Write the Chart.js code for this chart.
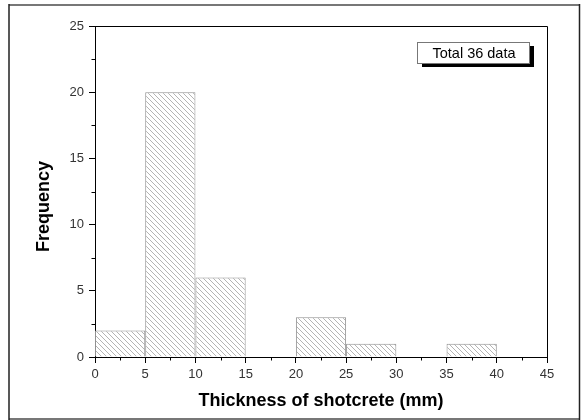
<!DOCTYPE html>
<html><head><meta charset="utf-8">
<script src="https://cdn.jsdelivr.net/npm/chart.js@4/dist/chart.umd.min.js"></script>
<style>html,body{margin:0;padding:0;background:#fff;}canvas{display:block;}</style>
</head><body>
<canvas id="c" width="584" height="420"></canvas>
<script>
// ---- data ----
const binStarts = [0, 5, 10, 15, 20, 25, 30, 35, 40];
const binWidth = 5;
const frequencies = [2, 20, 6, 0, 3, 1, 0, 1, 0];
const xTickValues = [0, 5, 10, 15, 20, 25, 30, 35, 40, 45];
const yTickValues = [0, 5, 10, 15, 20, 25];
const xTitle = 'Thickness of shotcrete (mm)';
const yTitle = 'Frequency';
const noteText = 'Total 36 data';

// ---- hatch pattern ----
function makeHatch() {
  const s = 5;
  const c = document.createElement('canvas');
  c.width = s; c.height = s;
  const g = c.getContext('2d');
  g.fillStyle = '#fff';
  g.fillRect(0, 0, s, s);
  g.strokeStyle = '#b4b4b4';
  g.lineWidth = 1;
  g.beginPath();
  g.moveTo(-1, -1); g.lineTo(s + 1, s + 1);
  g.moveTo(-1, s - 1); g.lineTo(1, s + 1);
  g.moveTo(s - 1, -1); g.lineTo(s + 1, 1);
  g.stroke();
  return document.getElementById('c').getContext('2d').createPattern(c, 'repeat');
}

const FONT = "'Liberation Sans', Arial, Helvetica, sans-serif";

const decorPlugin = {
  id: 'decor',
  beforeDraw(chart) {
    const ctx = chart.ctx;
    ctx.save();
    ctx.fillStyle = '#fff';
    ctx.fillRect(0, 0, chart.width, chart.height);
    ctx.restore();
  },
  afterDraw(chart) {
    const ctx = chart.ctx;
    const a = chart.chartArea;
    const xs = chart.scales.x, ys = chart.scales.y;
    ctx.save();
    // plot frame top & right
    ctx.strokeStyle = '#000';
    ctx.lineWidth = 1;
    ctx.beginPath();
    ctx.moveTo(a.left, a.top + 0.5); ctx.lineTo(a.right + 0.5, a.top + 0.5);
    ctx.lineTo(a.right + 0.5, a.bottom);
    ctx.stroke();
    // minor ticks
    ctx.beginPath();
    for (let i = 0; i < xTickValues.length - 1; i++) {
      const v = (xTickValues[i] + xTickValues[i + 1]) / 2;
      const px = Math.round(xs.getPixelForValue(v)) + 0.5;
      ctx.moveTo(px, a.bottom); ctx.lineTo(px, a.bottom + 3.5);
    }
    for (let i = 0; i < yTickValues.length - 1; i++) {
      const v = (yTickValues[i] + yTickValues[i + 1]) / 2;
      const py = Math.round(ys.getPixelForValue(v)) + 0.5;
      ctx.moveTo(a.left, py); ctx.lineTo(a.left - 3.5, py);
    }
    ctx.stroke();
    // y title
    ctx.save();
    ctx.translate(44, (a.top + a.bottom) / 2 + 15);
    ctx.rotate(-Math.PI / 2);
    ctx.font = 'bold 18px ' + FONT;
    ctx.fillStyle = '#000';
    ctx.textAlign = 'center';
    ctx.textBaseline = 'middle';
    ctx.fillText(yTitle, 0, 0);
    ctx.restore();
    // note box
    const bw = 112, bh = 21;
    const bx = a.right - 18 - bw, by = a.top + 16;
    ctx.fillStyle = '#000';
    ctx.fillRect(bx + 5, by + 4, bw, bh);
    ctx.fillStyle = '#fff';
    ctx.fillRect(bx, by, bw, bh);
    ctx.strokeStyle = '#777';
    ctx.lineWidth = 1;
    ctx.strokeRect(bx + 0.5, by + 0.5, bw, bh);
    ctx.fillStyle = '#000';
    ctx.font = '14.5px ' + FONT;
    ctx.textAlign = 'center';
    ctx.textBaseline = 'alphabetic';
    ctx.fillText(noteText, bx + bw / 2 + 1, by + 15.5);
    // outer image frame
    ctx.lineWidth = 2;
    ctx.strokeStyle = '#777';
    ctx.beginPath();
    ctx.moveTo(9, 5); ctx.lineTo(580, 5);
    ctx.moveTo(9, 419); ctx.lineTo(580, 419);
    ctx.stroke();
    ctx.strokeStyle = '#222';
    ctx.lineWidth = 1.5;
    ctx.beginPath();
    ctx.moveTo(9, 4); ctx.lineTo(9, 420);
    ctx.moveTo(579.5, 4); ctx.lineTo(579.5, 420);
    ctx.stroke();
    ctx.restore();
  }
};

const points = binStarts.map((s, i) => ({ x: s + binWidth / 2, y: frequencies[i] }));

new Chart(document.getElementById('c'), {
  type: 'bar',
  data: {
    datasets: [{
      data: points,
      backgroundColor: makeHatch(),
      borderColor: '#909090',
      borderWidth: 1,
      barPercentage: 1.0,
      categoryPercentage: 1.0,
      inflateAmount: 0
    }]
  },
  options: {
    responsive: false,
    animation: false,
    devicePixelRatio: 1,
    layout: { padding: { top: 26, right: 37, left: 0, bottom: 0 } },
    plugins: { legend: { display: false }, tooltip: { enabled: false } },
    scales: {
      x: {
        type: 'linear',
        min: xTickValues[0],
        max: xTickValues[xTickValues.length - 1],
        offset: false,
        afterBuildTicks: (s) => { s.ticks = xTickValues.map(v => ({ value: v })); },
        afterFit: (s) => { s.height = 63; },
        grid: { display: true, offset: false, drawOnChartArea: false, drawTicks: true, tickLength: 6, tickColor: '#000', tickWidth: 1 },
        border: { display: true, color: '#000', width: 1 },
        ticks: { color: '#333', font: { family: FONT, size: 13 }, padding: 4, maxRotation: 0, autoSkip: false },
        title: { display: true, text: xTitle, color: '#000', font: { family: FONT, size: 18, weight: 'bold' }, padding: { top: 0, bottom: 8 } }
      },
      y: {
        type: 'linear',
        min: yTickValues[0],
        max: yTickValues[yTickValues.length - 1],
        afterBuildTicks: (s) => { s.ticks = yTickValues.map(v => ({ value: v })); },
        afterFit: (s) => { s.width = 95; },
        grid: { display: true, drawOnChartArea: false, drawTicks: true, tickLength: 6, tickColor: '#000', tickWidth: 1 },
        border: { display: true, color: '#000', width: 1 },
        ticks: { color: '#333', font: { family: FONT, size: 13 }, padding: 5 },
        title: { display: false }
      }
    }
  },
  plugins: [decorPlugin]
});
</script>
</body></html>
